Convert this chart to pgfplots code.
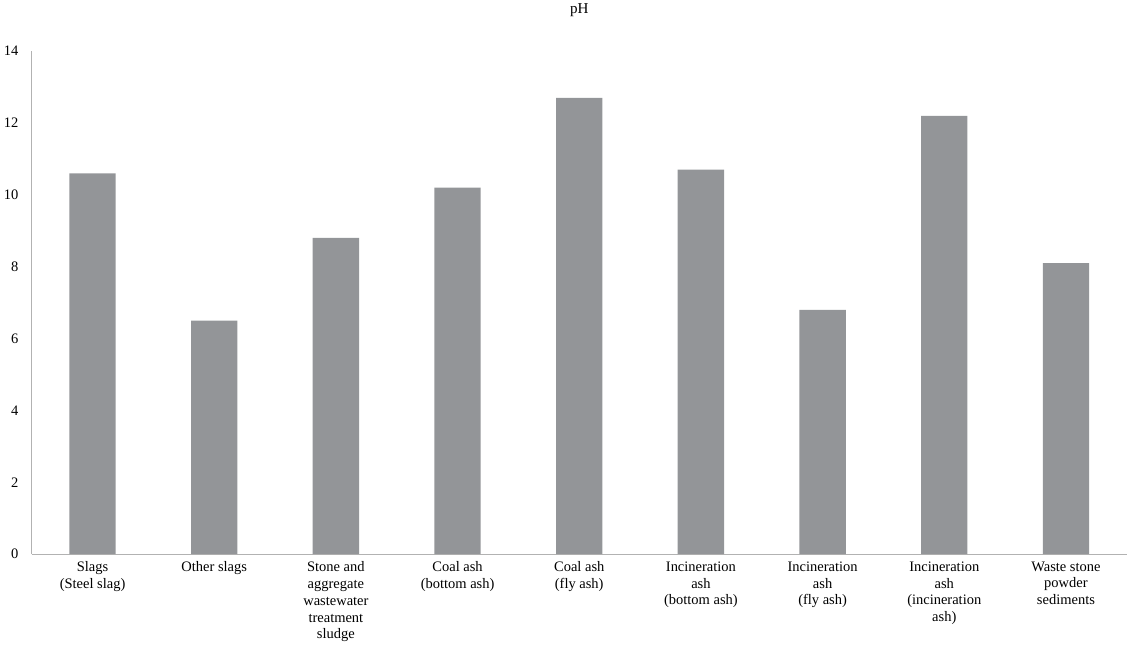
\documentclass[border=0pt]{standalone}
\usepackage{pgfplots}
\pgfplotsset{compat=1.18}
\usepackage{fontspec}
\setmainfont{Liberation Serif}
\definecolor{bar}{RGB}{147,149,152}
\begin{document}
\begin{tikzpicture}
\begin{axis}[
  x=105pt, y=31pt,
  ymin=0, ymax=14, ytick={0,2,...,14},
  xmin=-0.5, xmax=8.5,
  xtick=data,
  xticklabels={{Slags\\(Steel slag)},{Other slags},{Stone and\\aggregate\\wastewater\\treatment\\sludge},{Coal ash\\(bottom ash)},{Coal ash\\(fly ash)},{Incineration\\ash\\(bottom ash)},{Incineration\\ash\\(fly ash)},{Incineration\\ash\\(incineration\\ash)},{Waste stone\\powder\\sediments}},
  xticklabel style={align=center, anchor=north, font=\fontsize{12.5}{14.5}\selectfont, yshift=-3pt},
  yticklabel style={font=\fontsize{12.5}{14.5}\selectfont, xshift=-8pt},
  /pgf/number format/assume math mode=true,
  axis x line*=bottom, axis y line*=left,
  x axis line style={-, draw=gray!60}, y axis line style={-, draw=gray!60},
  major tick length=0pt,
  title={pH}, title style={font=\fontsize{13}{15}\selectfont, yshift=20pt},
]
\addplot[ybar, bar width=40pt, fill=bar, draw=none] coordinates {
(0,10.6) (1,6.5) (2,8.8) (3,10.2) (4,12.7) (5,10.7) (6,6.8) (7,12.2) (8,8.1)};
\end{axis}
\end{tikzpicture}
\end{document}
